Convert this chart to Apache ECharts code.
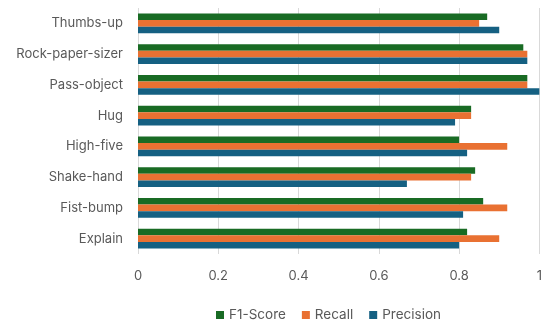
<!DOCTYPE html>
<html>
<head>
<meta charset="utf-8">
<script src="https://cdn.jsdelivr.net/npm/echarts@6/dist/echarts.min.js"></script>
<style>
  html, body { margin: 0; padding: 0; background: #fff; }
  #chart { width: 545px; height: 322px; }
</style>
</head>
<body>
<div id="chart"></div>
<script>
// Gesture classes, listed bottom to top on the category axis
const categories = ['Explain', 'Fist-bump', 'Shake-hand', 'High-five', 'Hug', 'Pass-object', 'Rock-paper-sizer', 'Thumbs-up'];

// Per-class scores
const f1Score   = [0.82, 0.86, 0.84, 0.80, 0.83, 0.97, 0.96, 0.87];
const recall    = [0.90, 0.92, 0.83, 0.92, 0.83, 0.97, 0.97, 0.85];
const precision = [0.80, 0.81, 0.67, 0.82, 0.79, 1.00, 0.97, 0.90];

const textColor = '#595959';
const font = 'Inter, Roboto, sans-serif';

const chart = echarts.init(document.getElementById('chart'), null, { renderer: 'canvas' });

function barSeries(name, data, color) {
  return {
    name: name,
    type: 'bar',
    data: data,
    barGap: '0%',
    barCategoryGap: '35%',
    itemStyle: { color: color },
    emphasis: { disabled: true }
  };
}

chart.setOption({
  animation: false,
  grid: { left: 138, right: 5, top: 8, bottom: 68, containLabel: false },
  legend: {
    top: 303,
    left: 211,
    itemWidth: 8,
    itemHeight: 8,
    itemGap: 16,
    icon: 'rect',
    textStyle: { color: textColor, fontSize: 13.5, fontFamily: font },
    data: ['F1-Score', 'Recall', 'Precision']
  },
  xAxis: {
    type: 'value',
    min: 0,
    max: 1,
    interval: 0.2,
    axisLine: { show: false },
    axisTick: { show: false },
    splitLine: { lineStyle: { color: '#d9d9d9', width: 1 } },
    axisLabel: {
      color: textColor,
      fontSize: 13,
      fontFamily: font,
      margin: 16,
      formatter: v => (Math.round(v * 10) / 10).toString()
    }
  },
  yAxis: {
    type: 'category',
    data: categories,
    axisLine: { show: false },
    axisTick: { show: false },
    axisLabel: { color: textColor, fontSize: 13, fontFamily: font, margin: 15 }
  },
  // first series sits at the top of each group
  series: [
    barSeries('F1-Score', f1Score, '#196B24'),
    barSeries('Recall', recall, '#E97132'),
    barSeries('Precision', precision, '#156082')
  ]
});
</script>
</body>
</html>
